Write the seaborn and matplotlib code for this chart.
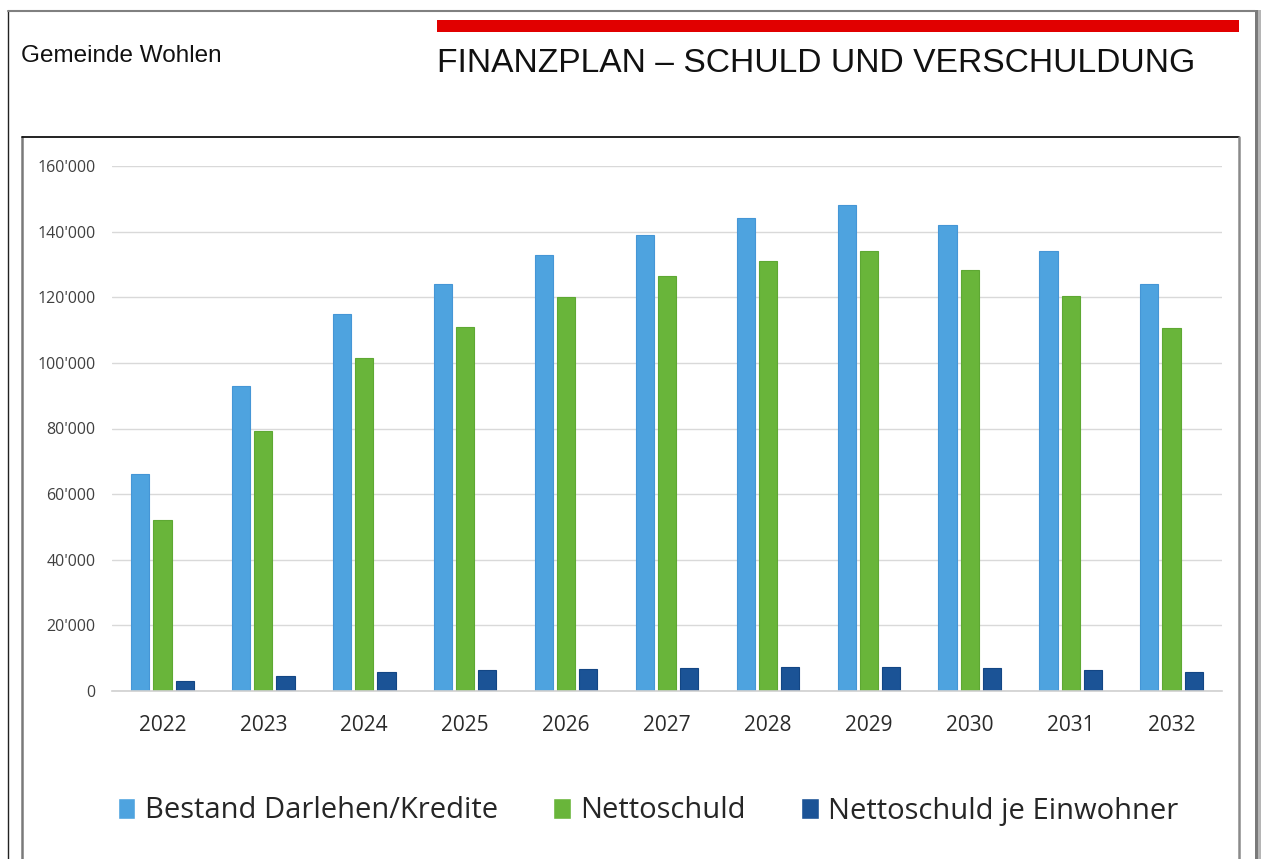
import matplotlib
matplotlib.use("Agg")
import matplotlib.pyplot as plt
import seaborn as sns
import pandas as pd
from matplotlib.patches import Rectangle
from matplotlib.ticker import FuncFormatter

# ---- data ----
years = ["2022", "2023", "2024", "2025", "2026", "2027", "2028", "2029", "2030", "2031", "2032"]
bestand = [66000, 93000, 115000, 124000, 133000, 139000, 144000, 148000, 142000, 134000, 124000]
nettoschuld = [52000, 79200, 101500, 110800, 120100, 126400, 130900, 134200, 128300, 120400, 110700]
je_einwohner = [3000, 4600, 5700, 6300, 6800, 7100, 7300, 7400, 6900, 6500, 5900]
series_names = ["Bestand Darlehen/Kredite", "Nettoschuld", "Nettoschuld je Einwohner"]
y_ticks = [0, 20000, 40000, 60000, 80000, 100000, 120000, 140000, 160000]
title = "FINANZPLAN – SCHULD UND VERSCHULDUNG"
org = "Gemeinde Wohlen"

colors = ["#4EA3DF", "#69B53A", "#1B5396"]
edges = ["#4596D6", "#5EA833", "#134684"]

df = pd.DataFrame({
    "Jahr": years * 3,
    "Serie": [series_names[0]] * len(years) + [series_names[1]] * len(years) + [series_names[2]] * len(years),
    "Wert": bestand + nettoschuld + je_einwohner,
})

sns.set_theme(style="white")
plt.rcParams["font.family"] = ["Open Sans", "DejaVu Sans"]

W, H = 1261, 859
fig = plt.figure(figsize=(W / 100, H / 100), dpi=100)
fig.patch.set_facecolor("white")

# background decoration axes in pixel coordinates
bg = fig.add_axes([0, 0, 1, 1], zorder=-5)
bg.set_xlim(0, W)
bg.set_ylim(H, 0)
bg.axis("off")
# slide outer frame
bg.plot([7.5, 7.5], [10.5, H], color="#222222", lw=1.0)
bg.plot([7.5, 1255], [10.5, 10.5], color="#808080", lw=1.5)
bg.add_patch(Rectangle((1254.5, 10), 3.5, H, color="#7a7a7a", lw=0))
bg.add_patch(Rectangle((1258, 10), 3, H, color="#b5b5b5", lw=0))
# red bar
bg.add_patch(Rectangle((437, 20), 802, 11.5, color="#E10000", lw=0))
# texts
bg.text(21, 62, org, fontsize=17.5, family="Liberation Sans", color="#111111", va="baseline", ha="left")
bg.text(437, 72, title, fontsize=24.2, family="Liberation Sans", color="#111111", va="baseline", ha="left")
# chart frame
bg.plot([22, 22], [137, H], color="#7a7a7a", lw=1.8)
bg.plot([22, 1239], [137, 137], color="#111111", lw=1.3)
bg.plot([1238.5, 1238.5], [137, H], color="#8a8a8a", lw=1.8)

# main plot axes
left, right, bottom_px, top_px = 112, 1222, 691, 166
ax = fig.add_axes([left / W, (H - bottom_px) / H, (right - left) / W, (bottom_px - top_px) / H])
ax.set_facecolor("none")

sns.barplot(data=df, x="Jahr", y="Wert", hue="Serie", order=years, hue_order=series_names,
            palette=colors, saturation=1, width=0.66, gap=0.18, ax=ax, legend=True, zorder=3)

# bar edges
n = len(years)
for i, p in enumerate(ax.patches[:3 * n]):
    p.set_edgecolor(edges[i // n])
    p.set_linewidth(0.8)

ax.set_xlim(-0.5, n - 0.5)
ax.set_ylim(0, 160000)
ax.set_yticks(y_ticks)
ax.yaxis.set_major_formatter(FuncFormatter(lambda v, _: f"{int(v):,}".replace(",", "'")))
ax.set_xlabel("")
ax.set_ylabel("")
ax.grid(axis="y", color="#D9D9D9", lw=1.0, zorder=0)
ax.grid(axis="x", visible=False)
for s in ["left", "right", "top"]:
    ax.spines[s].set_visible(False)
ax.spines["bottom"].set_color("#D0D0D0")
ax.spines["bottom"].set_linewidth(1.2)
ax.spines["bottom"].set_zorder(4)
ax.tick_params(axis="y", length=0, pad=12, labelsize=11.5, labelcolor="#404040")
ax.tick_params(axis="x", length=0, pad=17.5, labelsize=15, labelcolor="#2a2a2a")

handles, labels = ax.get_legend_handles_labels()
ax.get_legend().remove()
leg = fig.legend(handles, labels, loc="center", bbox_to_anchor=(648 / W, 1 - 811 / H), ncol=3,
                 frameon=False, fontsize=21, handlelength=0.6, handleheight=0.7,
                 handletextpad=0.32, columnspacing=1.9, labelcolor="#262626")

fig.savefig("out.png", dpi=100)
